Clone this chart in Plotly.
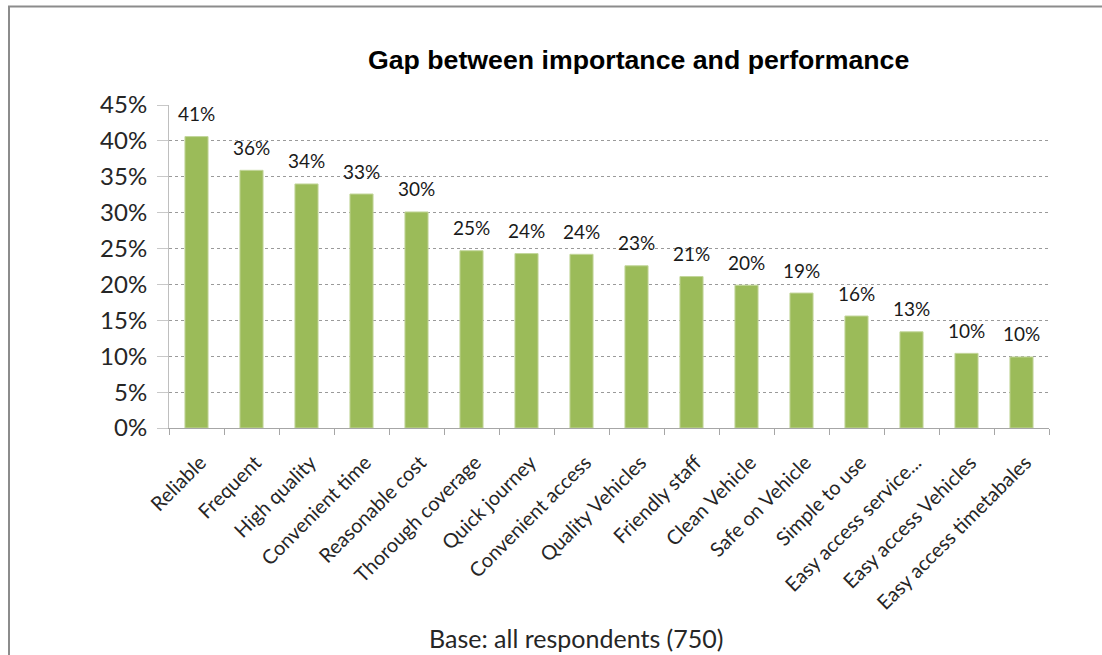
import plotly.graph_objects as go

# Attributes, ordered by gap size
categories = [
    "Reliable", "Frequent", "High quality", "Convenient time", "Reasonable cost",
    "Thorough coverage", "Quick journey", "Convenient access", "Quality Vehicles",
    "Friendly staff", "Clean Vehicle", "Safe on Vehicle", "Simple to use",
    "Easy access service...", "Easy access Vehicles", "Easy access timetabales",
]
# Gap between importance and performance (share of respondents)
gap_values = [
    0.406, 0.359, 0.340, 0.326, 0.301, 0.247, 0.243, 0.242,
    0.226, 0.211, 0.199, 0.188, 0.156, 0.134, 0.104, 0.099,
]
y_tick_values = [0, 0.05, 0.10, 0.15, 0.20, 0.25, 0.30, 0.35, 0.40, 0.45]
y_tick_labels = ["0%", "5%", "10%", "15%", "20%", "25%", "30%", "35%", "40%", "45%"]

W, H = 1102, 655
L, R, T, B = 169, 53, 105, 227
plot_w = W - L - R
plot_h = H - T - B

BAR_GREEN = "#9BBB59"
BODY_FONT = "Lato"

fig = go.Figure()
fig.add_trace(go.Bar(
    x=categories,
    y=gap_values,
    marker=dict(color=BAR_GREEN, line=dict(color="#C3D69B", width=1)),
    width=0.42,
    hoverinfo="x+y",
))

# Value labels above each bar
for cat, val in zip(categories, gap_values):
    fig.add_annotation(
        x=cat, y=val, text=f"{round(val * 100):.0f}%",
        showarrow=False, yanchor="middle", yshift=23,
        font=dict(family=BODY_FONT, size=19, color="#1a1a1a"),
    )

def px_x(px):
    return (px - L) / plot_w

def px_y(py):
    return (H - B - py) / plot_h

# Chart frame (left and top edges)
fig.add_shape(type="line", xref="paper", yref="paper",
              x0=px_x(9), x1=px_x(9), y0=px_y(6), y1=px_y(H + 5),
              line=dict(color="#8C8C8C", width=2))
fig.add_shape(type="line", xref="paper", yref="paper",
              x0=px_x(8), x1=px_x(W + 5), y0=px_y(6.5), y1=px_y(6.5),
              line=dict(color="#8C8C8C", width=2))

# Title
fig.add_annotation(
    xref="paper", yref="paper", x=px_x(638), y=px_y(60),
    text="<b>Gap between importance and performance</b>", showarrow=False,
    xanchor="center", yanchor="middle",
    font=dict(family="Liberation Sans", size=26.7, color="#000000"),
)
# Footnote
fig.add_annotation(
    xref="paper", yref="paper", x=px_x(576), y=px_y(638),
    text="Base: all respondents (750)", showarrow=False,
    xanchor="center", yanchor="middle",
    font=dict(family=BODY_FONT, size=25, color="#262626"),
)

fig.update_layout(
    width=W, height=H,
    margin=dict(l=L, r=R, t=T, b=B, pad=0),
    paper_bgcolor="white", plot_bgcolor="white",
    showlegend=False,
    bargap=0.58,
    font=dict(family=BODY_FONT, color="#262626"),
)
fig.update_xaxes(
    type="category",
    tickangle=-45,
    tickfont=dict(family=BODY_FONT, size=20, color="#262626"),
    showline=True, linecolor="#A6A6A6", linewidth=1,
    ticks="outside", tickson="boundaries", ticklen=6, tickcolor="#A6A6A6",
    ticklabelstandoff=14, ticklabelshift=4,
    showgrid=False,
)
fig.update_yaxes(
    range=[0, 0.45],
    tickvals=y_tick_values, ticktext=y_tick_labels,
    tickfont=dict(family=BODY_FONT, size=24, color="#262626"),
    showline=True, linecolor="#BFBFBF", linewidth=1,
    ticks="outside", ticklen=11, tickcolor="#C8C8C8",
    ticklabelstandoff=5,
    showgrid=True, gridcolor="#9A9A9A", gridwidth=1, griddash="dot",
    zeroline=False,
)

fig.write_html("out.html")
